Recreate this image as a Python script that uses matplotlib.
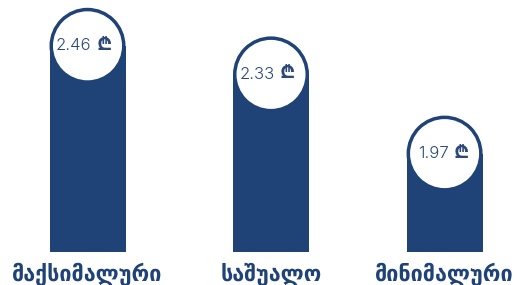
import matplotlib.pyplot as plt
from matplotlib.patches import Rectangle, Ellipse

# === DATA ===
labels = ['მაქსიმალური', 'საშუალო', 'მინიმალური']
values = [2.46, 2.33, 1.97]
value_text = ['2.46', '2.33', '1.97']
currency = '\u20be'

# === STYLE ===
BAR = '#1f4277'
TXT = '#2b4879'
W, H, DPI = 524, 285, 100
xpos = [0, 1.0, 1.946]
bar_w_px = 76
r_px = bar_w_px / 2
inner_px = 34.5

fig = plt.figure(figsize=(W / DPI, H / DPI), dpi=DPI)
ax = fig.add_axes([0, 0, 1, 1])
ax.set_xlim(-87.5 / 183.5, (W - 87.5) / 183.5)
# baseline at 33 px from bottom, value scale offset
ymin, k = 1.35, 220.0
ax.set_ylim(ymin - 33 / k, ymin + (H - 33) / k)
ax.axis('off')

px_x = 1 / 183.5   # x data units per pixel
px_y = 1 / k       # y data units per pixel

for x, v, lab, vt in zip(xpos, values, labels, value_text):
    bw = bar_w_px * px_x
    cy = v - r_px * px_y
    ax.add_patch(Rectangle((x - bw / 2, ymin), bw, cy - ymin, color=BAR, lw=0))
    ax.add_patch(Ellipse((x, cy), 2 * r_px * px_x, 2 * r_px * px_y, color=BAR, lw=0))
    ax.add_patch(Ellipse((x, cy), 2 * inner_px * px_x, 2 * inner_px * px_y,
                         color='white', lw=0))
    ax.text(x + 4 * px_x, cy, vt, ha='right', va='center', fontsize=12,
            color=TXT, family=['Inter', 'DejaVu Sans'], fontweight=300)
    ax.text(x + 9 * px_x, cy + 1 * px_y, currency, ha='left', va='center', fontsize=14.5,
            color=TXT, family=['Inter', 'DejaVu Sans'], fontweight='bold')
    ax.text(x, ymin - 22 * px_y, lab, ha='center', va='center', fontsize=15.5,
            color=BAR, family=['DejaVu Sans'], fontweight='bold')

fig.savefig('out.png', dpi=DPI)
